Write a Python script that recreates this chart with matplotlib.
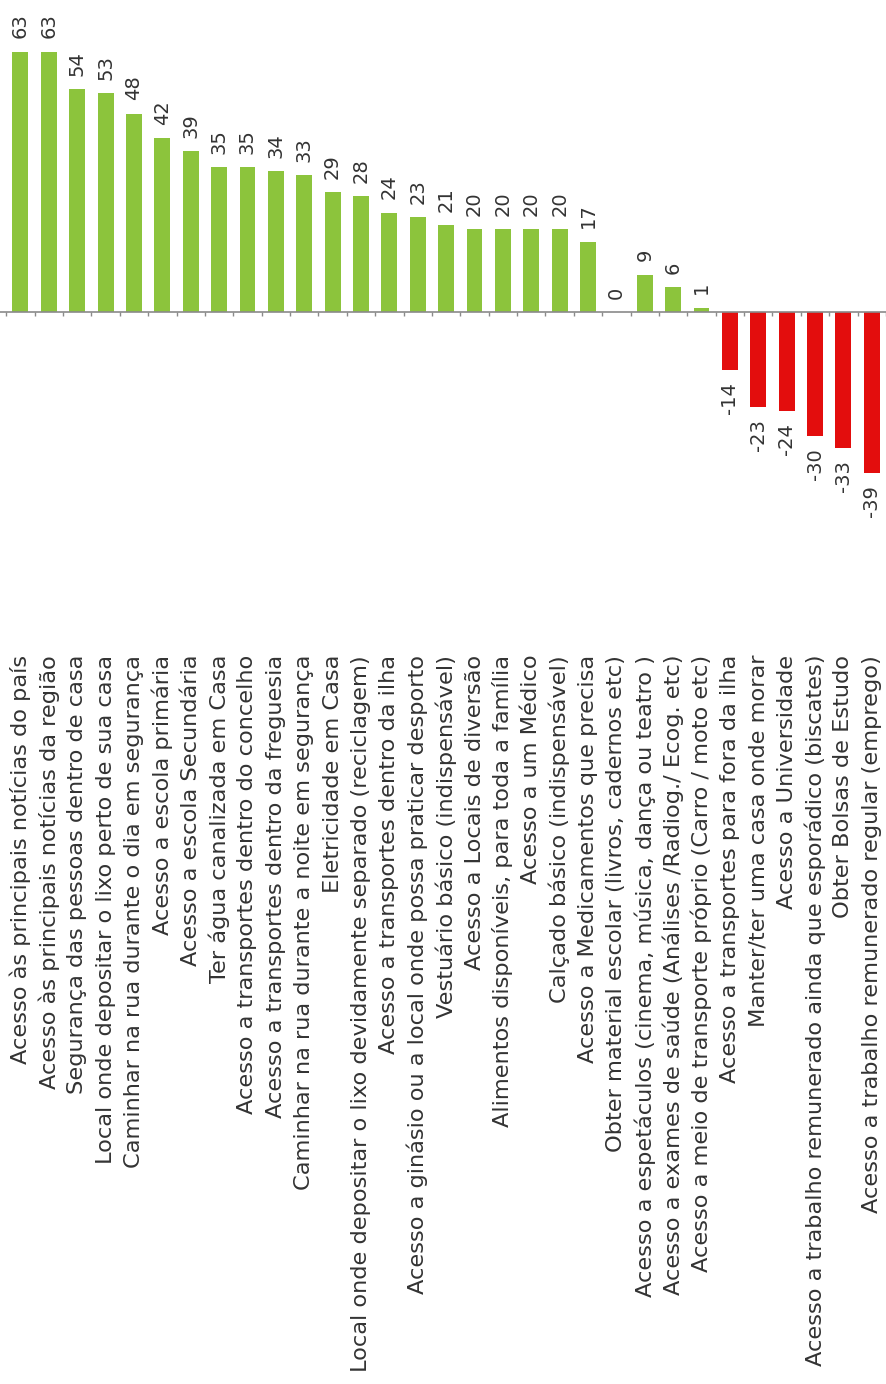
import numpy as np
import matplotlib
matplotlib.use('Agg')
import matplotlib.pyplot as plt

labels = ['Acesso às principais notícias do país',
          'Acesso às principais notícias da região',
          'Segurança das pessoas dentro de casa',
          'Local onde depositar o lixo perto de sua casa',
          'Caminhar na rua durante o dia em segurança',
          'Acesso a escola primária',
          'Acesso a escola Secundária',
          'Ter água canalizada em Casa',
          'Acesso a transportes dentro do concelho',
          'Acesso a transportes dentro da freguesia',
          'Caminhar na rua durante a noite em segurança',
          'Eletricidade em Casa',
          'Local onde depositar o lixo devidamente separado (reciclagem)',
          'Acesso a transportes dentro da ilha',
          'Acesso a ginásio ou a local onde possa praticar desporto',
          'Vestuário básico (indispensável)',
          'Acesso a Locais de diversão',
          'Alimentos disponíveis, para toda a família',
          'Acesso a um Médico',
          'Calçado básico (indispensável)',
          'Acesso a Medicamentos que precisa',
          'Obter material escolar (livros, cadernos etc)',
          'Acesso a espetáculos (cinema, música, dança ou teatro )',
          'Acesso a exames de saúde (Análises /Radiog./ Ecog. etc)',
          'Acesso a meio de transporte próprio (Carro / moto etc)',
          'Acesso a transportes para fora da ilha',
          'Manter/ter uma casa onde morar',
          'Acesso a Universidade',
          'Acesso a trabalho remunerado ainda que esporádico (biscates)',
          'Obter Bolsas de Estudo',
          'Acesso a trabalho remunerado regular (emprego)']
values = [63, 63, 54, 53, 48, 42, 39, 35, 35, 34, 33, 29, 28, 24, 23,
          21, 20, 20, 20, 20, 17, 0, 9, 6, 1, -14, -23, -24, -30, -33, -39]

green = '#8cc43c'
red = '#e30d0d'
txt = '#333333'

plt.rcParams['font.family'] = ['DejaVu Sans']

fig = plt.figure(figsize=(8.86, 13.84), dpi=100)
ax = fig.add_axes([0, 1 - 652 / 1384, 1, 652 / 1384])

x = np.arange(len(values))
cols = [green if v >= 0 else red for v in values]
ax.bar(x, values, width=0.56, color=cols, zorder=2)
ax.axhline(0, color='#8a8a8a', lw=1.2, zorder=3)
ax.vlines(np.arange(len(values) + 1) - 0.5, -1.1, 0, color='#8a8a8a', lw=1, zorder=3)

for xi, v in zip(x, values):
    if v >= 0:
        ax.text(xi, v + 3.2, str(v), rotation=90, ha='center', va='bottom',
                fontsize=14, color=txt)
    else:
        ax.text(xi, v - 3.0, str(v), rotation=90, ha='center', va='top',
                fontsize=14, color=txt)

ax.set_xlim(-0.72, 30.5)
ax.set_ylim(-82.4, 75.5)
ax.set_xticks(x)
ax.set_xticklabels(labels, rotation=90, fontsize=16.2, color=txt)
ax.tick_params(axis='x', length=0, pad=2)
ax.set_yticks([])
for s in ax.spines.values():
    s.set_visible(False)

fig.savefig('out.png', dpi=100)
